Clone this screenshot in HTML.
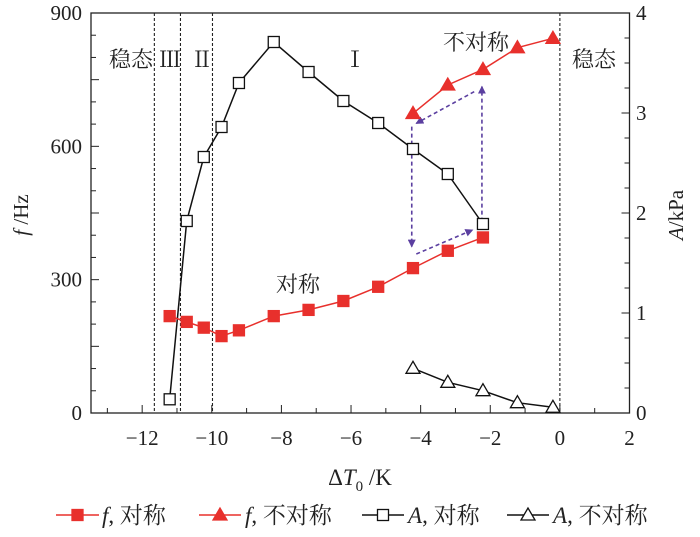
<!DOCTYPE html>
<html><head><meta charset="utf-8"><style>
body{margin:0;background:#fff;}
svg text{font-family:"Liberation Serif","Noto Serif CJK SC","Noto Sans CJK SC",serif;fill:#222;}
</style></head><body>
<svg id="chart" width="700" height="532" viewBox="0 0 700 532"></svg>
<script>
const xSym=[-11.21,-10.72,-10.23,-9.72,-9.22,-8.22,-7.22,-6.22,-5.22,-4.22,-3.22,-2.21];
const fSym=[218,205,192,173,186,218,232,252,284,326,365,395];
const aSym=[0.137,1.92,2.56,2.86,3.30,3.71,3.41,3.12,2.90,2.64,2.39,1.89];
const xAsym=[-4.22,-3.22,-2.21,-1.22,-0.2];
const fAsym=[674,738,773,822,843];
const aAsym=[0.447,0.307,0.223,0.103,0.057];
const xTicks=[-12,-10,-8,-6,-4,-2,0,2];
const fTicks=[0,300,600,900];
const aTicks=[0,1,2,3,4];
const regionLines=[-11.65,-10.9,-9.98,0];

const NS="http://www.w3.org/2000/svg";
const svg=document.getElementById('chart');
const L=91,R=629.5,T=13,B=413,XMIN=-13.47,XMAX=2;
const X=v=>L+(v-XMIN)/(XMAX-XMIN)*(R-L);
const YF=v=>B-v/900*(B-T);
const YA=v=>B-v/4*(B-T);
function mk(tag,attrs,parent){const e=document.createElementNS(NS,tag);for(const k in attrs)e.setAttribute(k,attrs[k]);(parent||svg).appendChild(e);return e;}
function txt(s,x,y,attrs){const t=mk('text',Object.assign({x:x,y:y},attrs||{}));t.textContent=s;return t;}

const defs=mk('defs',{});
const mkr=mk('marker',{id:'arr',markerWidth:8,markerHeight:8,refX:7,refY:4,orient:'auto',markerUnits:'userSpaceOnUse'},defs);
mk('path',{d:'M0,0 L8,4 L0,8 z',fill:'#5b3fa0'},mkr);

const frame=mk('rect',{x:L,y:T,width:R-L,height:B-T,fill:'none',stroke:'#222','stroke-width':1.3});



for(let v=-13;v<=2;v++){
  const major=v%2===0;
  const t=mk('line',{x1:X(v),x2:X(v),y1:B,y2:B-(major?8:5),stroke:'#222','stroke-width':1});
  
  
}
xTicks.forEach(v=>{
  const t=txt((v<0?'\u2212':'')+Math.abs(v),X(v),445,{'font-size':21,'text-anchor':'middle'});
  
  
});
for(let v=0;v<=900;v+=50){
  const major=v%150===0;
  const t=mk('line',{x1:L,x2:L+(major?8:5),y1:YF(v),y2:YF(v),stroke:'#222','stroke-width':1});
  
  
}
fTicks.forEach(v=>{
  const t=txt(String(v),82,YF(v)+7,{'font-size':21,'text-anchor':'end'});
  
  
});
for(let v=0;v<=4.001;v+=0.25){
  const major=Math.abs(v-Math.round(v))<1e-6;
  const t=mk('line',{x1:R,x2:R-(major?8:5),y1:YA(v),y2:YA(v),stroke:'#222','stroke-width':1});
  
  
}
aTicks.forEach(v=>{
  const t=txt(String(v),636,YA(v)+7,{'font-size':21,'text-anchor':'start'});
  
  
});

let t=txt('',28,215,{'font-size':21,'text-anchor':'middle',transform:'rotate(-90 28 215)'});
t.innerHTML='<tspan font-style="italic">f</tspan> /Hz';


t=txt('',683,215,{'font-size':21,'text-anchor':'middle',transform:'rotate(-90 683 215)'});
t.innerHTML='<tspan font-style="italic">A</tspan>/kPa';


t=txt('',360,485,{'font-size':23,'text-anchor':'middle'});
t.innerHTML='Δ<tspan font-style="italic">T</tspan><tspan font-size="15" dy="6">0</tspan><tspan dy="-6"> /K</tspan>';



regionLines.forEach(v=>{
  const l=mk('line',{x1:X(v),x2:X(v),y1:T,y2:B,stroke:'#222','stroke-width':1.1,'stroke-dasharray':'3,2'});
  
  
});

[['稳态',131,67,'region-label-steady-left'],['Ⅲ',170,67,'region-label-III'],['Ⅱ',202,67,'region-label-II'],['Ⅰ',355,67,'region-label-I'],['不对称',476,50,'asym-label'],['稳态',594,67,'region-label-steady-right'],['对称',298,292,'sym-label']].forEach(a=>{
  const e=txt(a[0],a[1],a[2],{'font-size':22,'text-anchor':'middle'});
  
  
});

[[917,380,917,740],[930,762,1090,690],[1117,665,1117,260],[1095,275,930,370]].forEach(a=>{
  const l=mk('line',{x1:90+a[0]/2.85,y1:a[1]/3,x2:90+a[2]/2.85,y2:a[3]/3,stroke:'#5b3fa0','stroke-width':1.6,'stroke-dasharray':'4,3','marker-end':'url(#arr)'});
  
  
});

function series(xs,ys,yfn,color,name){
  const pts=xs.map((x,i)=>X(x)+','+yfn(ys[i])).join(' ');
  const p=mk('polyline',{points:pts,fill:'none',stroke:color,'stroke-width':1.5});
  
  
}
function sq(x,y,fill,stroke,name){
  const r=mk('rect',{x:x-5.5,y:y-5.5,width:11,height:11,fill:fill,stroke:stroke,'stroke-width':1.3});
  
  
}
function tri(x,y,fill,stroke,name){
  const p=mk('polygon',{points:`${x},${y-7} ${x-7},${y+5} ${x+7},${y+5}`,fill:fill,stroke:stroke,'stroke-width':1.3});
  
  
}
series(xSym,aSym,YA,'#111','a-sym');
series(xAsym,aAsym,YA,'#111','a-asym');
series(xSym,fSym,YF,'#e8302c','f-sym');
series(xAsym,fAsym,YF,'#e8302c','f-asym');
xSym.forEach((x,i)=>sq(X(x),YA(aSym[i]),'#fff','#111','a-sym-point'));
xAsym.forEach((x,i)=>tri(X(x),YA(aAsym[i]),'#fff','#111','a-asym-point'));
xSym.forEach((x,i)=>sq(X(x),YF(fSym[i]),'#e8302c','#e8302c','f-sym-point'));
xAsym.forEach((x,i)=>tri(X(x),YF(fAsym[i]),'#e8302c','#e8302c','f-asym-point'));

const leg=[[56,99,'#e8302c','sq',true,'f','legend-f-sym','对称',102],[199,241,'#e8302c','tri',true,'f','legend-f-asym','不对称',245],[362,404,'#111','sq',false,'A','legend-a-sym','对称',408],[507,549,'#111','tri',false,'A','legend-a-asym','不对称',553]];
leg.forEach(g=>{
  const y=515;
  const l=mk('line',{x1:g[0],x2:g[1],y1:y,y2:y,stroke:g[2],'stroke-width':1.5});
  
  
  const cx=(g[0]+g[1])/2;
  if(g[3]==='sq') sq(cx,y,g[4]?g[2]:'#fff',g[2],g[6]+'-marker'); else tri(cx,y,g[4]?g[2]:'#fff',g[2],g[6]+'-marker');
  const tt=txt('',g[8],y+8,{'font-size':23});
  tt.innerHTML='<tspan font-style="italic">'+g[5]+'</tspan>, '+g[7];
  
  
});
</script>
</body></html>
